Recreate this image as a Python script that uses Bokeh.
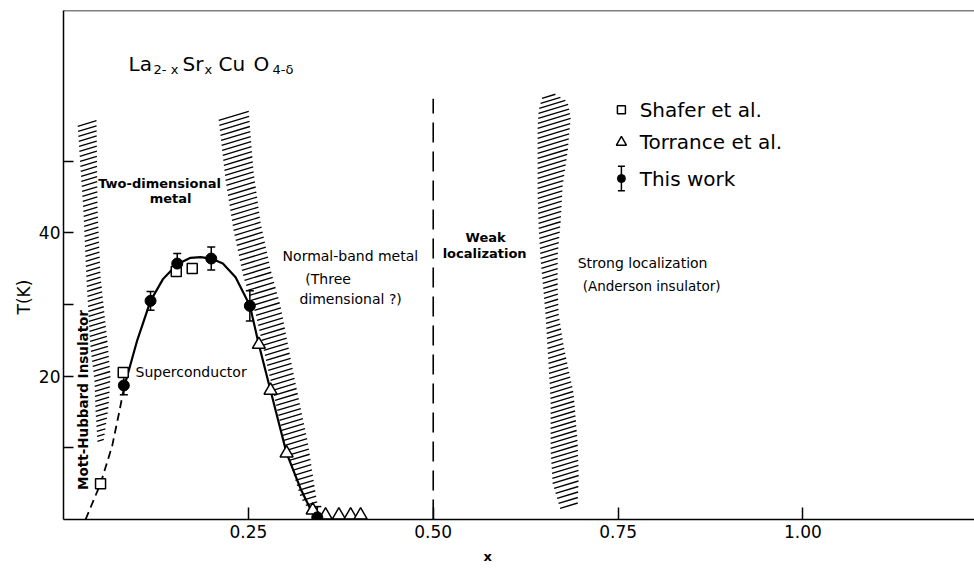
import math
import numpy as np
from bokeh.plotting import figure
from bokeh.models import (ColumnDataSource, Whisker, TeeHead, Label, Span, FixedTicker,
                          Title)
from bokeh.core.properties import value
from bokeh.embed import file_html
from bokeh.resources import INLINE

FONT = "DejaVu Sans"

# ---------------- data ----------------
# Tc measured in this work (with error bars)
work_x = [0.0816, 0.1177, 0.1538, 0.1998, 0.2520, 0.3432]
work_tc = [18.7, 30.5, 35.7, 36.4, 29.8, 0.3]
work_err = [1.3, 1.3, 1.4, 1.6, 2.1, 1.5]

# Shafer et al.
shafer_x = [0.0501, 0.0808, 0.1525, 0.1741]
shafer_tc = [5.0, 20.5, 34.6, 35.0]

# Torrance et al.
torrance_x = [0.2642, 0.2800, 0.3017, 0.3370, 0.3544, 0.3724, 0.3883, 0.4018]
torrance_tc = [24.4, 18.0, 9.25, 1.3, 0.6, 0.6, 0.6, 0.6]

# superconducting dome (solid) and its extrapolation (dashed)
dome_x = [0.0816, 0.0997, 0.1177, 0.1343, 0.1538, 0.1718, 0.1853, 0.1998,
          0.2155, 0.2327, 0.2520, 0.2642, 0.2800, 0.3017, 0.3206, 0.3342, 0.3436]
dome_tc = [18.3, 25.0, 30.5, 33.5, 35.6, 36.5, 36.6, 36.4,
           35.7, 33.8, 29.85, 24.4, 18.0, 9.25, 4.3, 1.4, 0.07]
extrap_x = [0.0298, 0.0501, 0.0659, 0.0758, 0.0816]
extrap_tc = [0.0, 5.0, 10.3, 15.2, 18.3]

# boundary between weak and strong localisation regimes
weak_boundary_x = 0.5
weak_boundary_top = 58.7

# crossover bands (T, left edge x, right edge x)
band1_t = [10.60, 15.20, 19.39, 23.99, 33.33, 42.68, 55.37]
band1_l = [0.0460, 0.0433, 0.0419, 0.0365, 0.0311, 0.0271, 0.0189]
band1_r = [0.0541, 0.0609, 0.0636, 0.0595, 0.0501, 0.0460, 0.0446]

band2_t = [0.98, 3.07, 10.04, 19.39, 28.73, 33.75, 40.31, 47.28, 55.93]
band2_l = [0.3341, 0.3206, 0.3003, 0.2800, 0.2597, 0.2435, 0.2300, 0.2192, 0.2097]
band2_r = [0.3450, 0.3409, 0.3301, 0.3111, 0.2936, 0.2800, 0.2665, 0.2571, 0.2503]

band3_t = [1.26, 5.02, 9.62, 16.60, 23.57, 28.17, 31.52, 36.12, 40.73, 45.47,
           50.07, 54.67, 57.04, 59.14]
band3_l = [0.6724, 0.6615, 0.6588, 0.6588, 0.6548, 0.6521, 0.6494, 0.6453, 0.6426,
           0.6412, 0.6412, 0.6412, 0.6426, 0.6480]
band3_r = [0.6953, 0.6967, 0.6953, 0.6899, 0.6764, 0.6696, 0.6683, 0.6683, 0.6724,
           0.6750, 0.6818, 0.6859, 0.6818, 0.6615]

x_ticks = [0.25, 0.5, 0.75, 1.0]
x_tick_labels = ["0.25", "0.50", "0.75", "1.00"]
y_ticks = [10, 20, 30, 40, 50]
y_tick_labels = ["", "20", "", "40", ""]

legend_labels = ["Shafer et al.", "Torrance et al.", "This work"]

# ---------------- figure ----------------
W, H = 974, 571
LEFT, TOP, BOTTOM = 63, 10, 52
X_MAX, T_MAX = 1.232, 71.0

p = figure(width=W, height=H, x_range=(0, X_MAX), y_range=(0, T_MAX),
           output_backend="svg", toolbar_location=None,
           min_border_left=LEFT, min_border_right=0, min_border_top=TOP,
           min_border_bottom=BOTTOM)
p.grid.visible = False
p.outline_line_color = None
p.background_fill_color = "white"
p.border_fill_color = "white"

xa, ya = p.xaxis[0], p.yaxis[0]
xa.ticker = FixedTicker(ticks=x_ticks, minor_ticks=[])
xa.major_label_overrides = dict(zip(x_ticks, x_tick_labels))
ya.ticker = FixedTicker(ticks=y_ticks, minor_ticks=[])
ya.major_label_overrides = dict(zip(y_ticks, y_tick_labels))
for ax in (xa, ya):
    ax.axis_line_color = "black"
    ax.axis_line_width = 1.5
    ax.major_tick_line_color = "black"
    ax.major_tick_line_width = 1.5
    ax.major_tick_out = 0
    ax.minor_tick_line_color = None
    ax.major_label_text_font = FONT
    ax.major_label_text_font_size = "17px"
    ax.major_label_text_color = "black"
xa.major_tick_in = 12
xa.major_label_standoff = 5
ya.major_tick_in = 10
ya.major_label_standoff = 3

# axis titles as side-panel titles so they can sit off-centre
p.add_layout(Title(text="T(K)", align="left", offset=205, standoff=3,
                   text_font=FONT, text_font_size="17px", text_font_style="normal",
                   text_color="black"), "left")
p.add_layout(Title(text="x", align="left", offset=420, standoff=13,
                   text_font=FONT, text_font_size="13px", text_font_style="bold",
                   text_color="black"), "below")

# top border of the frame
p.add_layout(Span(location=T_MAX, dimension="width", line_color="black", line_width=1.5))

# ---------------- hatched crossover bands ----------------
px_per_x = (W - LEFT) / X_MAX
px_per_t = (H - TOP - BOTTOM) / T_MAX
STEP_PX = 5.0     # spacing of hatch strokes
RISE = 0.3        # stroke tilt (px up per px across)


def hatch(t_edge, l_edge, r_edge):
    t = np.arange(t_edge[0] + 0.3, t_edge[-1], STEP_PX / px_per_t)
    xl = np.interp(t, t_edge, l_edge)
    xr = np.interp(t, t_edge, r_edge)
    y1 = t + RISE * (xr - xl) * px_per_x / px_per_t
    return dict(x0=xl, y0=t, x1=xr, y1=y1)


for bt, bl, br in ((band1_t, band1_l, band1_r), (band2_t, band2_l, band2_r),
                   (band3_t, band3_l, band3_r)):
    p.segment(source=ColumnDataSource(hatch(bt, bl, br)), x0="x0", y0="y0",
              x1="x1", y1="y1", line_color="black", line_width=1.35)

# ---------------- curves ----------------
p.line([weak_boundary_x, weak_boundary_x], [0, weak_boundary_top],
       line_color="black", line_width=1.6, line_dash="20 9")
p.line(extrap_x, extrap_tc, line_color="black", line_width=1.8, line_dash="8 5")
p.line(dome_x, dome_tc, line_color="black", line_width=2.2)

# ---------------- data points ----------------
work_src = ColumnDataSource(dict(
    x=work_x, tc=work_tc,
    upper=[t + e for t, e in zip(work_tc, work_err)],
    lower=[t - e for t, e in zip(work_tc, work_err)]))
p.add_layout(Whisker(source=work_src, base="x", upper="upper", lower="lower",
                     dimension="height", line_color="black", line_width=1.5,
                     upper_head=TeeHead(size=8, line_width=1.5),
                     lower_head=TeeHead(size=8, line_width=1.5)))
p.scatter(shafer_x, shafer_tc, marker="square", size=10, fill_color="white",
          line_color="black", line_width=1.5)
p.scatter(torrance_x, torrance_tc, marker="triangle", size=13, fill_color="white",
          line_color="black", line_width=1.5)
p.scatter("x", "tc", source=work_src, marker="circle", size=11,
          fill_color="black", line_color="black")

# ---------------- key ----------------
key_x, key_tx = 0.7545, 0.7792
key_rows = [57.15, 52.62, 47.56]
p.scatter([key_x], [key_rows[0]], marker="square", size=8, fill_color="white",
          line_color="black", line_width=1.5)
p.scatter([key_x], [key_rows[1]], marker="triangle", size=10, fill_color="white",
          line_color="black", line_width=1.5)
key_src = ColumnDataSource(dict(x=[key_x], y=[key_rows[2]], up=[key_rows[2] + 1.7],
                                lo=[key_rows[2] - 1.7]))
p.add_layout(Whisker(source=key_src, base="x", upper="up", lower="lo",
                     dimension="height", line_color="black", line_width=1.5,
                     upper_head=TeeHead(size=7, line_width=1.5),
                     lower_head=TeeHead(size=7, line_width=1.5)))
p.scatter("x", "y", source=key_src, marker="circle", size=8, fill_color="black",
          line_color="black")
p.text(x=[key_tx] * 3, y=key_rows, text=legend_labels, text_font=value(FONT),
       text_font_size="20px", text_baseline="middle", text_align="left",
       text_color="black")

# ---------------- formula ----------------
formula = [("La", 0.0879, 63.56, "20px"), ("2- x", 0.1218, 62.83, "13px"),
           ("Sr", 0.1610, 63.56, "20px"), ("x", 0.1907, 62.83, "13px"),
           ("Cu", 0.2097, 63.56, "20px"), ("O", 0.2570, 63.56, "20px"),
           ("4-δ", 0.2827, 62.83, "13px")]
for txt, fx, fy, fs in formula:
    p.add_layout(Label(x=fx, y=fy, text=txt, text_font=FONT, text_font_size=fs,
                       text_baseline="alphabetic", text_align="left",
                       text_color="black"))

# ---------------- region names ----------------
regions = [
    ("Two-dimensional", 0.1299, 46.86, "center", "13px", "bold", 0.0),
    ("metal", 0.1448, 44.77, "center", "13px", "bold", 0.0),
    ("Normal-band metal", 0.2963, 36.7, "left", "14px", "normal", 0.0),
    ("(Three", 0.3578, 33.6, "center", "14px", "normal", 0.0),
    ("dimensional ?)", 0.3883, 30.75, "center", "14px", "normal", 0.0),
    ("Superconductor", 0.0974, 20.64, "left", "14px", "normal", 0.0),
    ("Mott-Hubbard  Insulator", 0.0270, 17.0, "center", "13.5px", "bold", math.pi / 2),
    ("Weak", 0.5709, 39.33, "center", "13px", "bold", 0.0),
    ("localization", 0.5695, 37.1, "center", "13px", "bold", 0.0),
    ("Strong localization", 0.6953, 35.84, "left", "14px", "normal", 0.0),
    ("(Anderson insulator)", 0.7021, 32.64, "left", "13.5px", "normal", 0.0),
]
for txt, rx, ry, al, fs, st, ang in regions:
    p.add_layout(Label(x=rx, y=ry, text=txt, text_font=FONT, text_font_size=fs,
                       text_font_style=st, text_align=al, text_baseline="middle",
                       angle=ang, text_color="black"))

open("out.html", "w").write(file_html(p, INLINE))
